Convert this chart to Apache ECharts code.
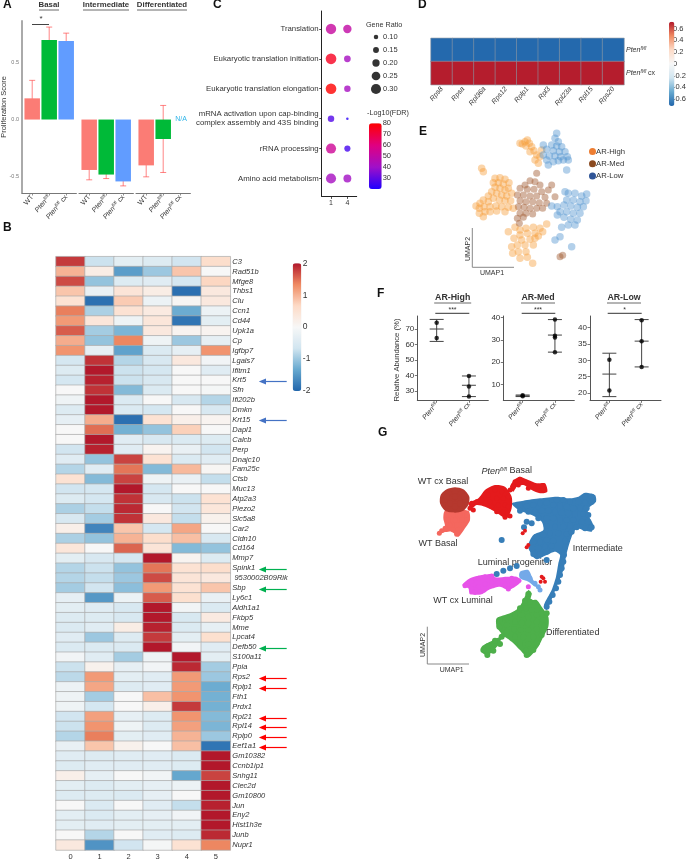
<!DOCTYPE html>
<html>
<head>
<meta charset="utf-8">
<style>html,body{margin:0;padding:0;background:#fff}#c{width:689px;height:861px}</style>
<script src="https://cdn.jsdelivr.net/npm/echarts@6/dist/echarts.min.js"></script>
</head>
<body>
<div id="c"></div>
<script>
// ---------- Panel A ----------
var groupsA = ['WT', 'Pten', 'PtenCx'];
var facetsA = ['Basal', 'Intermediate', 'Differentiated'];
var scoreBasal = [0.185, 0.695, 0.685];
var scoreIntermediate = [-0.44, -0.48, -0.54];
var scoreDifferentiated = [-0.40, -0.17, null];
var errBasal = [[0.03, 0.342], [0.58, 0.807], [0.611, 0.754]];
var errIntermediate = [[-0.526, -0.35], [-0.515, -0.447], [-0.579, -0.503]];
var errDifferentiated = [[-0.5, -0.298], [-0.462, 0.123], null];

// ---------- Panel B ----------
var genesB = ['C3','Rad51b','Mfge8','Thbs1','Clu','Ccn1','Cd44','Upk1a','Cp','Igfbp7','Lgals7','Ifitm1','Krt5','Sfn','Ifi202b','Dmkn','Krt15','Dapl1','Calcb','Perp',
 'Dnajc10','Fam25c','Ctsb','Muc13','Atp2a3','Piezo2','Slc5a8','Car2','Cldn10','Cd164',
 'Mmp7','Spink1',' 9530002B09Rik','Sbp','Ly6c1','Aldh1a1','Fkbp5','Mme','Lpcat4','Defb50',
 'S100a11','Ppia','Rps2','Rplp1','Fth1','Prdx1','Rpl21','Rpl14','Rplp0','Eef1a1',
 'Gm10382','Ccnb1ip1','Snhg11','Clec2d','Gm10800','Jun','Eny2','Hist1h3e','Junb','Nupr1'];
var clustersB = ['0','1','2','3','4','5'];
var exprB = [
[1.8,-0.7,-0.35,-0.45,-0.65,0.6],[1.0,0.25,-1.45,-1.0,0.85,0.0],[1.7,-1.05,-0.45,-0.4,-0.6,0.7],[0.85,-0.25,0.45,0.25,-1.9,0.35],[0.5,-1.9,0.8,-0.2,0.05,0.35],
[1.4,-0.9,0.5,0.3,-1.3,-0.2],[1.2,0.4,-0.15,0.4,-1.85,-0.35],[1.6,-0.95,-1.2,0.35,0.1,0.1],[1.05,-1.05,1.35,-0.15,-1.0,-0.3],[1.25,-0.3,-1.4,-0.5,-0.3,1.25],
[-0.6,1.85,-0.85,-0.55,0.35,-0.1],[-0.45,2.0,-0.7,-0.6,0.0,-0.4],[-0.6,1.95,-0.7,-0.55,0.0,0.0],[0.0,1.85,-1.15,-0.5,0.0,-0.05],[-0.15,2.0,-0.5,0.0,-0.55,-0.85],
[-0.45,2.0,-0.5,-0.6,0.0,-0.55],[-0.3,1.05,-1.9,0.5,0.2,0.1],[0.0,1.5,-1.25,-1.05,0.75,0.0],[0.0,2.0,-0.4,-0.55,-0.5,-0.45],[-0.65,1.95,-0.4,0.1,-0.25,-0.65],
[-0.4,-1.05,1.75,0.5,-0.5,-0.4],[-0.85,-0.4,1.45,-1.15,0.95,0.05],[0.5,-1.15,1.75,-0.15,-0.25,-0.75],[-0.65,-0.6,2.0,-0.6,0.0,0.0],[-0.45,-0.6,1.85,-0.55,-0.7,0.5],
[-0.9,-0.75,1.9,0.0,-0.65,0.4],[-0.55,-0.95,1.85,0.35,-0.75,0.15],[0.2,-1.7,0.85,-0.6,1.1,0.0],[-0.9,-1.05,1.0,0.6,0.9,-0.55],[0.4,0.0,1.55,0.45,-1.15,-1.05],
[-0.35,-0.55,-0.6,2.0,0.1,-0.45],[-0.85,-0.7,-1.05,1.45,0.5,0.6],[-0.85,-0.75,-1.0,1.7,0.45,0.35],[-0.95,-0.65,-1.1,1.2,0.5,0.85],[-0.3,-1.5,-0.2,1.6,0.55,-0.25],
[-0.35,-0.4,-0.55,2.0,-0.1,-0.5],[-0.45,-0.45,-0.55,2.0,-0.55,0.3],[-0.5,-0.4,0.25,1.95,-0.5,-0.3],[-0.4,-1.0,-0.45,1.8,-0.35,0.55],[-0.5,-0.5,-0.5,2.0,-0.1,-0.4],
[-0.1,-0.4,-0.95,-0.15,2.0,-0.35],[-0.7,0.15,-0.3,-0.1,1.9,-0.95],[-0.8,1.2,-0.35,-0.4,1.2,-1.0],[-0.2,1.1,-0.45,-0.4,1.2,-1.3],[-0.15,-0.95,0.0,0.9,1.25,-1.25],
[-0.15,-0.6,0.0,0.2,1.8,-1.25],[-0.65,1.15,-0.3,-0.45,1.25,-1.15],[-0.7,1.25,-0.15,-0.45,1.15,-1.2],[-0.85,1.4,-0.35,-0.4,1.0,-1.0],[-0.25,0.85,0.15,0.0,0.9,-1.85],
[-0.4,-0.45,-0.4,-0.4,-0.5,2.0],[-0.45,-0.4,-0.4,-0.4,-0.45,2.0],[0.2,-0.3,0.0,-0.1,-1.35,1.75],[-0.35,-0.45,-0.35,-0.3,-0.2,2.0],[-0.45,-0.45,-0.5,-0.3,0.0,2.0],
[0.0,-0.5,0.0,-0.4,-0.75,1.95],[-0.35,-0.5,-0.35,-0.3,-0.1,2.0],[-0.35,-0.4,-0.35,-0.35,-0.35,2.0],[0.0,-0.85,0.0,-0.4,-0.45,1.9],[0.35,-1.55,-0.65,-0.05,0.5,1.35]
];
var blueArrowGenes = ['Krt5', 'Krt15'];
var greenArrowGenes = ['Spink1', 'Sbp', 'Defb50'];
var redArrowGenes = ['Rps2', 'Rplp1', 'Rpl21', 'Rpl14', 'Rplp0', 'Eef1a1'];

// ---------- Panel C ----------
var termsC = ['Translation','Eukaryotic translation initiation','Eukaryotic translation elongation','mRNA activation upon cap-binding\ncomplex assembly and 43S binding','rRNA processing','Amino acid metabolism'];
var clustersC = ['1', '4'];
var ratioC1 = [0.31, 0.32, 0.32, 0.17, 0.30, 0.30];
var ratioC4 = [0.24, 0.18, 0.17, 0.03, 0.16, 0.22];
var fdrC1 = [52, 75, 80, 28, 54, 42];
var fdrC4 = [50, 42, 42, 22, 26, 41];
var ratioLegend = [0.10, 0.15, 0.20, 0.25, 0.30];

// ---------- Panel D ----------
var genesD = ['Rps8','Rpsa','Rpl36a','Rps12','Rplp1','Rpl3','Rpl23a','Rpl15','Rps20'];
var rowsD = ['Pten', 'PtenCx'];
var exprDPten = [-0.71,-0.71,-0.71,-0.71,-0.71,-0.71,-0.71,-0.71,-0.71];
var exprDCx = [0.71,0.71,0.71,0.71,0.71,0.71,0.71,0.71,0.71];
var ticksD = [-0.6,-0.4,-0.2,0,0.2,0.4,0.6];

// ---------- Panel E (UMAP) ----------
var arHigh = [[240,100],[247,102],[255,95],[262,90],[268,100],[275,110],[258,108],[282,122],[270,125],[290,135],[285,150],[295,160],[300,140],[305,120],
[165,205],[180,203],[195,208],[207,218],[160,218],[175,218],[190,222],[205,235],[165,232],[180,235],[195,240],[215,250],[155,245],[170,250],[185,255],[200,258],[145,258],[160,265],[178,270],[195,272],[212,272],[130,270],[145,275],[120,280],[108,288],[118,295],[132,290],[150,290],[168,288],[185,290],[205,292],[220,295],[118,310],[130,320],[135,305],[150,305],[170,303],[195,305],[125,175],[130,185],
[205,365],[225,352],[240,360],[258,355],[280,352],[300,355],[320,342],[308,365],[285,370],[262,370],[240,375],[222,385],[245,390],[270,388],[295,378],[215,410],[232,405],[255,405],[280,405],[218,430],[235,425],[258,425],[240,445],[262,442],[278,460],[285,385]];
var arMed = [[290,190],[270,212],[285,215],[300,225],[255,225],[240,235],[262,238],[282,238],[305,245],[325,240],[232,255],[250,255],[270,258],[290,258],[315,262],[240,272],[258,275],[278,275],[298,278],[320,280],[235,290],[252,292],[270,295],[290,295],[308,295],[240,310],[258,310],[278,312],[232,325],[250,322],[238,340],[345,260],[335,225],[360,440],[368,436]];
var arLow = [[350,70],[345,85],[355,95],[335,105],[350,108],[365,110],[320,118],[340,122],[358,125],[375,125],[310,105],[310,135],[328,138],[345,138],[362,140],[382,140],[385,150],[320,150],[340,155],[355,152],[370,150],[325,165],
[440,252],[425,258],[405,250],[385,250],[375,245],[438,272],[420,275],[400,270],[380,270],[430,290],[412,292],[392,288],[372,285],[352,290],[335,288],[420,310],[400,310],[380,305],[360,305],[412,330],[392,328],[372,322],[352,315],[405,345],[385,345],[365,352],[360,380],[345,390],[395,410],[380,180]];

// ---------- Panel F ----------
var groupsF = ['Pten', 'PtenCx'];
var highDots = [[1,74],[1,64.2],[2,39.7],[2,32.9],[2,26.4]];
var highErr = [[1,62,76.2,70],[2,26.4,39.7,33.7]];
var medDots = [[1,4.8],[1,5.3],[2,39],[2,31.8],[2,31],[2,24.5]];
var medErr = [[1,4.7,5.4,5],[2,24.5,39,32.1]];
var lowDots = [[1,30.2],[1,20.8],[2,42.3],[2,35.9],[2,28]];
var lowErr = [[1,18.9,32.2,25.8],[2,28,42.5,35.9]];

// ---------- Panel G (UMAP): cloud envelopes ----------
var hullIntermediate = [[335,190],[370,182],[420,175],[470,170],[510,175],[535,170],[555,158],[585,165],[588,185],[565,205],[565,225],[580,255],[575,275],[550,270],[530,265],[515,290],[500,340],[490,390],[470,440],[450,490],[440,510],[432,495],[455,450],[468,410],[475,370],[480,345],[465,335],[440,345],[410,358],[395,345],[385,315],[400,285],[430,270],[425,245],[395,225],[355,210]];
var hullLumProg = [[360,395],[385,390],[400,420],[415,438],[405,440],[385,425],[360,415]];
var hullWtCxLuminal = [[187,435],[210,415],[245,405],[280,402],[285,412],[320,410],[350,410],[365,422],[350,437],[325,450],[300,440],[270,448],[245,463],[210,463],[205,445]];
var hullDifferentiated = [[385,450],[395,460],[392,480],[410,480],[425,500],[445,530],[445,560],[430,590],[415,620],[385,652],[360,630],[335,605],[310,590],[295,615],[265,645],[248,640],[245,620],[280,600],[305,585],[290,560],[290,535],[330,520],[355,505],[370,480]];
var hullWtBasal = [[135,212],[205,212],[210,240],[195,265],[175,290],[155,275],[120,278],[135,260],[130,235]];
var hullWtCxBasal = [[165,142],[190,148],[208,170],[205,195],[190,212],[165,218],[135,212],[120,190],[122,165],[140,148]];
var hullPtenBasal = [[205,190],[235,175],[255,150],[285,135],[315,140],[335,170],[335,205],[320,235],[285,215],[255,200],[230,195],[215,205]];
var hullPtenBasalTop = [[330,140],[345,118],[360,110],[385,120],[410,130],[435,130],[442,155],[420,160],[395,150],[370,135],[350,140],[340,155]];
// ---------- Panel G: individual points ----------
var gIntermediate = [[555,170],[575,170],[470,180],[490,180],[510,185],[535,185],[555,188],[575,185],
[360,195],[380,198],[400,195],[420,190],[440,188],[460,195],[480,198],[500,200],[520,205],[540,205],[560,205],
[360,212],[385,215],[405,215],[425,212],[445,212],[465,215],[485,218],[505,220],[525,222],[550,222],[565,225],
[415,235],[440,235],[460,235],[480,240],[500,240],[520,240],[545,245],[565,245],[575,262],[555,265],
[440,258],[465,260],[490,260],[510,258],[530,262],[410,290],[430,285],[450,280],[475,280],[500,282],[515,275],
[400,305],[420,305],[440,300],[460,302],[495,302],[395,325],[415,325],[435,320],[455,318],[495,322],[400,342],[420,342],[440,335],[492,345],
[490,365],[485,385],[480,405],[475,425],[468,445],[458,465],[448,485],[440,500],[290,402],[310,392],[330,385],[350,378],[380,245],[372,262],[395,250],[305,300],[440,360]];
var gLumProg = [[365,405],[380,400],[390,415],[405,430],[415,440],[420,450]];
var gWtCxLuminal = [[195,437],[215,425],[235,415],[255,410],[275,408],[215,445],[235,440],[255,432],[275,428],[240,455],[295,428],[315,418],[335,415],[355,422],[315,435],[335,432],[325,447],[385,440]];
var gDifferentiated = [[385,462],[375,482],[390,485],[360,505],[378,505],[395,510],[345,525],[365,525],[385,530],[410,525],[425,520],[320,535],[300,540],[345,545],[320,555],[298,560],[365,548],[385,550],[410,545],[430,540],[440,520],[342,568],[320,575],[362,570],[385,570],[410,568],[432,560],[345,590],[370,592],[400,590],[425,585],[360,612],[385,612],[410,610],[378,632],[400,630],[380,645],[305,590],[285,602],[265,618],[250,630],[262,645],[280,632],[300,612]];
var gWtBasal = [[140,225],[160,225],[180,225],[200,225],[145,240],[165,240],[185,240],[200,240],[150,255],[170,255],[190,255],[160,270],[178,270],[170,283],[135,265],[125,272],[118,280]];
var gWtCxBasal = [[165,155],[145,160],[185,160],[135,180],[155,178],[175,178],[195,180],[145,198],[165,200],[185,198],[165,170],[150,190],[180,190],[140,170],[192,170]];
var gPtenBasal = [[230,185],[215,190],[245,180],[265,165],[285,150],[305,155],[270,185],[290,175],[310,175],[325,170],[275,200],[295,195],[315,195],[290,215],[310,215],[325,200],[345,125],[360,118],[375,125],[395,135],[415,138],[430,148],[340,140],[330,150],[355,135],[385,145],[315,232],[330,228],[210,205],[220,210]];
var gStrayRed = [[385,315],[380,322],[375,272],[430,415],[422,425],[435,425],[425,410],[368,280]];

var FONT = '"Liberation Sans", Arial, sans-serif';
var BLUE_RED = ['#2166AC','#67A9CF','#D1E5F0','#F7F7F7','#FDDBC7','#EF8A62','#B2182B'];

var richP = {
  i: {fontStyle:'italic', fontFamily:FONT, fontSize:7, color:'#333'},
  s: {fontStyle:'italic', fontFamily:FONT, fontSize:4.5, color:'#333', verticalAlign:'top', padding:[0,0,3,0]},
  n: {fontFamily:FONT, fontSize:7, color:'#333'}
};
function groupLabel(g) {
  if (g === 'Pten') return '{i|Pten}{s|fl/fl}';
  if (g === 'PtenCx') return '{i|Pten}{s|fl/fl}{n| cx}';
  return '{n|' + g + '}';
}
function seq(n) { var a = []; for (var i = 1; i <= n; i++) a.push(i); return a; }
function discreteAxis(labels, gridIndex, pad, lineCol, extra) {
  var n = labels.length;
  var o = {
    type:'value', gridIndex:gridIndex, min:1-pad, max:n+pad,
    splitLine:{show:false},
    axisLine:{show:true, onZero:false, lineStyle:{color:lineCol, width:1}},
    axisTick:{show:true, length:2.5, customValues:seq(n), lineStyle:{color:lineCol, width:0.8}},
    axisLabel:{show:true, customValues:seq(n), fontFamily:FONT, fontSize:7, color:'#333', margin:3,
      formatter:function(v){ return labels[Math.round(v)-1]; }}
  };
  for (var k in extra) o[k] = extra[k];
  return o;
}
function hiddenAxis(gridIndex, min, max, inverse) {
  return {type:'value', gridIndex:gridIndex, min:min, max:max, inverse:!!inverse, show:false};
}
var grids = [], xAxes = [], yAxes = [], series = [];
function addGrid(l, t, w, h) { grids.push({left:l, top:t, width:w, height:h, containLabel:false}); return grids.length-1; }

function errorSeries(gi, data, color, capPx, opts) {
  opts = opts || {};
  return {
    type:'custom', xAxisIndex:gi, yAxisIndex:gi, coordinateSystem:'cartesian2d', silent:true, clip:false,
    data:data, encode:{x:0, y:[1,2]},
    renderItem:function(p, api){
      var x = api.value(0), lo = api.coord([x, api.value(1)]), hi = api.coord([x, api.value(2)]);
      var st = {stroke:color, lineWidth:opts.width||1, opacity:opts.opacity==null?1:opts.opacity};
      var ch = [
        {type:'line', shape:{x1:lo[0],y1:lo[1],x2:hi[0],y2:hi[1]}, style:st},
        {type:'line', shape:{x1:lo[0]-capPx,y1:lo[1],x2:lo[0]+capPx,y2:lo[1]}, style:st},
        {type:'line', shape:{x1:hi[0]-capPx,y1:hi[1],x2:hi[0]+capPx,y2:hi[1]}, style:st}
      ];
      var m = api.value(3);
      if (!isNaN(m)) { var c = api.coord([x,m]); ch.push({type:'line', shape:{x1:c[0]-capPx,y1:c[1],x2:c[0]+capPx,y2:c[1]}, style:st}); }
      return {type:'group', children:ch};
    }
  };
}

// ---- Panel A grids
var colorsA = ['#FB7C75','#00BA38','#619CFF'];
var aY = [-0.641, 0.86];
function facetA(left, vals, errs, showY) {
  var gi = addGrid(left, 21, 54.4, 172);
  xAxes.push(discreteAxis(groupsA.map(groupLabel), gi, 0.6, '#777', {}));
  xAxes[gi].axisLabel.rotate = 50; xAxes[gi].axisLabel.rich = richP;
  yAxes.push({type:'value', gridIndex:gi, min:aY[0], max:aY[1], show:showY, splitLine:{show:false},
    axisLine:{show:true, lineStyle:{color:'#aaa', width:2}}, axisTick:{show:false, customValues:[-0.5,0,0.5]},
    axisLabel:{customValues:[-0.5,0,0.5], fontFamily:FONT, fontSize:5.5, color:'#777', margin:3,
      formatter:function(v){ return v.toFixed(1); }}});
  series.push({type:'bar', xAxisIndex:gi, yAxisIndex:gi, barWidth:15.5, silent:true,
    data:vals.map(function(v,i){ return v==null?null:{value:[i+1,v], itemStyle:{color:colorsA[i]}}; })});
  series.push(errorSeries(gi, errs.map(function(e,i){ return e?[i+1,e[0],e[1]]:null; }).filter(Boolean), '#F44', 3, {opacity:.65}));
}
facetA(22, scoreBasal, errBasal, true);
facetA(79, scoreIntermediate, errIntermediate, false);
facetA(136, scoreDifferentiated, errDifferentiated, false);

// ---- Panel B
var giB = addGrid(56, 256.7, 174.3, 594.6);
xAxes.push({type:'category', gridIndex:giB, data:clustersB, position:'bottom', axisLine:{show:false}, axisTick:{show:false},
  axisLabel:{fontFamily:FONT, fontSize:7.5, color:'#333', margin:3}, splitLine:{show:false}});
yAxes.push({type:'category', gridIndex:giB, data:genesB, inverse:true, position:'right', axisLine:{show:false}, axisTick:{show:false},
  axisLabel:{interval:0, fontFamily:FONT, fontSize:7.5, fontStyle:'italic', color:'#333', margin:2}, splitLine:{show:false}});
var dataB = [];
exprB.forEach(function(r,ri){ r.forEach(function(v,ci){ dataB.push([ci,ri,v]); }); });
series.push({type:'heatmap', xAxisIndex:giB, yAxisIndex:giB, data:dataB, silent:true,
  itemStyle:{borderColor:'#aaa', borderWidth:0.7}, emphasis:{disabled:true}});
var sB = series.length-1;

// colourbar B axis
var giBc = addGrid(292.7, 263.3, 8.6, 127.7);
xAxes.push(hiddenAxis(giBc,0,1));
yAxes.push({type:'value', gridIndex:giBc, min:-2, max:2, interval:1, position:'right', axisLine:{show:false}, axisTick:{show:false}, splitLine:{show:false},
  axisLabel:{fontFamily:FONT, fontSize:8.5, color:'#333', margin:1.5}});

// ---- Panel C
var giC = addGrid(321.7, 11, 35, 185.4);
xAxes.push(discreteAxis(clustersC, giC, 0.57, '#222', {}));
xAxes[giC].axisLabel.fontSize = 7;
yAxes.push(discreteAxis(termsC, giC, 0.6, '#222', {inverse:true}));
yAxes[giC].axisLabel.fontSize = 7.8; yAxes[giC].axisLabel.lineHeight = 9.3; yAxes[giC].axisLabel.margin = 3; yAxes[giC].axisLabel.align='right';
function ratioSize(r) { return 1.7 + r * 28; }
var dataC = [];
termsC.forEach(function(t,i){
  dataC.push([1,i+1,ratioC1[i],fdrC1[i]]);
  dataC.push([2,i+1,ratioC4[i],fdrC4[i]]);
});
series.push({type:'scatter', xAxisIndex:giC, yAxisIndex:giC, data:dataC, silent:true,
  symbolSize:function(v){ return ratioSize(v[2]); }});
var sC = series.length-1;

// Size legend
var giCl = addGrid(370, 30.5, 12, 65);
xAxes.push(hiddenAxis(giCl,0,1));
yAxes.push({type:'category', gridIndex:giCl, data:ratioLegend.map(function(r){return r.toFixed(2);}), inverse:true, position:'right',
  axisLine:{show:false}, axisTick:{show:false}, splitLine:{show:false}, axisLabel:{fontFamily:FONT, fontSize:7.5, color:'#333', margin:1}});
series.push({type:'scatter', xAxisIndex:giCl, yAxisIndex:giCl, silent:true, itemStyle:{color:'#000'},
  data:ratioLegend.map(function(r){ return [0.5, r.toFixed(2), r]; }),
  symbolSize:function(v){ return ratioSize(v[2]); }});

// colourbar C axis
var giCc = addGrid(369, 123.3, 12.7, 65.7);
xAxes.push(hiddenAxis(giCc,0,1));
yAxes.push({type:'value', gridIndex:giCc, min:20, max:80, interval:10, position:'right', axisLine:{show:false}, axisTick:{show:false}, splitLine:{show:false},
  axisLabel:{fontFamily:FONT, fontSize:7.5, color:'#333', margin:1, showMinLabel:false}});

// ---- Panel D
var giD = addGrid(431, 38.3, 193, 46.4);
xAxes.push({type:'category', gridIndex:giD, data:genesD, position:'bottom', axisLine:{show:false}, axisTick:{show:false}, splitLine:{show:false},
  axisLabel:{interval:0, rotate:50, fontFamily:FONT, fontSize:7, fontStyle:'italic', color:'#333', margin:3}});
yAxes.push({type:'category', gridIndex:giD, data:rowsD.map(groupLabel), inverse:true, position:'right', axisLine:{show:false}, axisTick:{show:false}, splitLine:{show:false},
  axisLabel:{rich:richP, fontFamily:FONT, fontSize:7, margin:2}});
var dataD = [];
genesD.forEach(function(g,i){ dataD.push([i,0,exprDPten[i]]); dataD.push([i,1,exprDCx[i]]); });
series.push({type:'heatmap', xAxisIndex:giD, yAxisIndex:giD, data:dataD, silent:true,
  itemStyle:{borderColor:'#8a96a3', borderWidth:0.6}, emphasis:{disabled:true}});
var sD = series.length-1;

// colourbar D axis
var giDc = addGrid(669, 21.7, 5.4, 84.3);
xAxes.push(hiddenAxis(giDc,0,1));
yAxes.push({type:'value', gridIndex:giDc, min:-0.72, max:0.72, position:'right', axisLine:{show:false}, axisTick:{show:false}, splitLine:{show:false},
  axisLabel:{customValues:ticksD, fontFamily:FONT, fontSize:7.5, color:'#333', margin:2, formatter:function(v){ return String(Math.round(v*10)/10); }}});

// ---- Panel E : coordinates are picture readings, 3 units to a pixel
var giE = addGrid(440, 110, 249, 170);
xAxes.push(hiddenAxis(giE,0,747));
yAxes.push(hiddenAxis(giE,0,510,true));
function cloud(gi, name, data, color, size, opacity) {
  series.push({type:'scatter', name:name, xAxisIndex:gi, yAxisIndex:gi, data:data, symbolSize:size, silent:true, clip:false,
    itemStyle:{color:color, opacity:opacity}});
}
function hull(gi, pts, color) {
  series.push({type:'custom', xAxisIndex:gi, yAxisIndex:gi, coordinateSystem:'cartesian2d', silent:true, clip:false,
    data:pts, encode:{x:0,y:1},
    renderItem:function(p, api){
      if (p.dataIndex !== 0) return null;
      return {type:'polygon', shape:{points:pts.map(function(q){ return api.coord(q); }), smooth:0.25}, style:{fill:color}};
    }});
}
cloud(giE, 'AR-High', arHigh, '#F59A35', 7.5, 0.42);
cloud(giE, 'AR-Med', arMed, '#A0582F', 7, 0.45);
cloud(giE, 'AR-Low', arLow, '#4A90CE', 7.5, 0.42);

// ---- Panel F
function facetF(left, ymin, ymax, ticks, dots, errs) {
  var gi = addGrid(left, 316, 71, 84.3);
  xAxes.push(discreteAxis(groupsF.map(groupLabel), gi, 0.6, '#555', {}));
  xAxes[gi].axisLabel.rotate = 50; xAxes[gi].axisLabel.rich = richP;
  yAxes.push({type:'value', gridIndex:gi, min:ymin, max:ymax, splitLine:{show:false},
    axisLine:{show:true, lineStyle:{color:'#555', width:1}}, axisTick:{show:true, length:2.5, customValues:ticks, lineStyle:{color:'#555', width:.8}},
    axisLabel:{customValues:ticks, fontFamily:FONT, fontSize:8, color:'#333', margin:3}});
  series.push(errorSeries(gi, errs, '#444', 7, {width:1}));
  series.push({type:'scatter', xAxisIndex:gi, yAxisIndex:gi, data:dots, symbolSize:4.5, silent:true, itemStyle:{color:'#000'}});
}
facetF(417.3, 24, 78.4, [30,40,50,60,70], highDots, highErr);
facetF(503.3, 3.04, 40.6, [10,20,30,40], medDots, medErr);
facetF(590, 17.77, 43.6, [20,25,30,35,40], lowDots, lowErr);

// ---- Panel G : coordinates are picture readings, 3 units to a pixel
var giG = addGrid(400, 440, 260, 240);
xAxes.push(hiddenAxis(giG,0,780));
yAxes.push(hiddenAxis(giG,0,720,true));
hull(giG, hullIntermediate, '#377EB8');
cloud(giG, 'Intermediate', gIntermediate, '#377EB8', 6, 1);
hull(giG, hullLumProg, '#74A9E8');
cloud(giG, 'Luminal progenitor', gLumProg, '#74A9E8', 5, 1);
hull(giG, hullWtCxLuminal, '#E752E8');
cloud(giG, 'WT cx Luminal', gWtCxLuminal, '#E752E8', 5, 1);
hull(giG, hullDifferentiated, '#4DAF4A');
cloud(giG, 'Differentiated', gDifferentiated, '#4DAF4A', 6, 1);
hull(giG, hullWtBasal, '#F4675E');
cloud(giG, 'WT Basal', gWtBasal, '#F4675E', 5, 1);
hull(giG, hullWtCxBasal, '#B5382E');
cloud(giG, 'WT cx Basal', gWtCxBasal, '#B5382E', 6, 1);
hull(giG, hullPtenBasal, '#E41A1C');
hull(giG, hullPtenBasalTop, '#E41A1C');
cloud(giG, 'Pten Basal', gPtenBasal, '#E41A1C', 5, 1);
cloud(giG, 'stray', gStrayRed, '#E41A1C', 4, 1);

// ---- graphic annotations
var g = [];
function txt(x, y, text, o) {
  o = o || {};
  var st = {text:text, fontFamily:FONT, fontSize:o.size||8, fontWeight:o.bold?'bold':'normal', fontStyle:o.italic?'italic':'normal',
    fill:o.color||'#333', align:o.align||'center', verticalAlign:'middle'};
  if (o.rich) st.rich = o.rich;
  g.push({type:'text', x:x, y:y, rotation:o.rot||0, silent:true, style:st});
}
function seg(x1,y1,x2,y2,col,w) { g.push({type:'line', silent:true, shape:{x1:x1,y1:y1,x2:x2,y2:y2}, style:{stroke:col, lineWidth:w||1}}); }
function arrow(y,col) {
  y = Math.round(y) + 0.5;
  seg(264, y, 286.7, y, col, 1.2);
  g.push({type:'polygon', silent:true, shape:{points:[[258.8,y],[266,y-3],[266,y+3]]}, style:{fill:col}});
}
[['A',3,5],['B',3,228],['C',213,5],['D',418,5],['E',419,132],['F',377,294],['G',378,433]].forEach(function(p){
  txt(p[1],p[2],p[0],{size:12,bold:true,color:'#111',align:'left'});
});
// A
[[49,'Basal',20],[106,'Intermediate',46],[162,'Differentiated',50]].forEach(function(p){
  txt(p[0],5,p[1],{size:7.8,bold:true});
  seg(p[0]-p[2]/2,10,p[0]+p[2]/2,10,'#444',0.8);
});
txt(3.5,107,'Proliferation Score',{size:7.5,rot:Math.PI/2});
seg(32,24.5,49,24.5,'#444',1);
txt(41,19,'*',{size:8});
txt(181,119,'N/A',{size:7,color:'#2DB4E8'});
// B arrows
function rowY(name){ return 256.7 + (genesB.indexOf(name)+0.5)*594.6/genesB.length; }
blueArrowGenes.forEach(function(n){ arrow(rowY(n),'#4472C4'); });
greenArrowGenes.forEach(function(n){ arrow(rowY(n),'#00B050'); });
redArrowGenes.forEach(function(n){ arrow(rowY(n),'#FF0000'); });
// C legend titles
txt(366,25,'Gene Ratio',{size:7.2,align:'left'});
txt(367,113,'-Log10(FDR)',{size:7.2,align:'left'});
// E axes
seg(472.3,228,472.3,267.3,'#888',1); seg(472.3,267.3,514,267.3,'#888',1);
txt(468,249,'UMAP2',{size:7,rot:Math.PI/2});
txt(492,273,'UMAP1',{size:7});
// F titles
[[452.7,'AR-High',37],[538,'AR-Med',34],[624,'AR-Low',34]].forEach(function(p){
  txt(p[0],298,p[1],{size:8.8,bold:true});
  seg(p[0]-p[2]/2,303,p[0]+p[2]/2,303,'#444',0.8);
});
seg(435.3,313.3,469.3,313.3,'#333',1); txt(452.5,310,'***',{size:7});
seg(521.7,313.3,555.3,313.3,'#333',1); txt(538,310,'***',{size:7});
seg(607.7,313.3,641.7,313.3,'#333',1); txt(624.5,310,'*',{size:7});
txt(396.7,360,'Relative Abundance (%)',{size:7.7,rot:Math.PI/2});
// G axes + labels
seg(427.3,626.7,427.3,664,'#888',1); seg(427.3,664,469,664,'#888',1);
txt(422.7,645,'UMAP2',{size:7,rot:Math.PI/2});
txt(451.7,670,'UMAP1',{size:7});
var richG = {i:{fontStyle:'italic',fontFamily:FONT,fontSize:9,fill:'#333',color:'#333'},
  s:{fontStyle:'italic',fontFamily:FONT,fontSize:5.5,color:'#333',verticalAlign:'top',padding:[0,0,3,0]},
  n:{fontFamily:FONT,fontSize:9,color:'#333'}};
txt(443,482,'WT cx Basal',{size:9});
txt(506.7,471,'{i|Pten}{s|fl/fl}{n| Basal}',{size:9,rich:richG});
txt(438,543.7,'WT Basal',{size:9});
txt(597.7,549,'Intermediate',{size:9});
txt(515,562.7,'Luminal progenitor',{size:9});
txt(463,600.7,'WT cx Luminal',{size:9});
txt(572.7,633,'Differentiated',{size:9});

var chart = echarts.init(document.getElementById('c'), null, {renderer:'canvas', width:689, height:861});
chart.setOption({
  animation:false,
  backgroundColor:'#fff',
  grid:grids, xAxis:xAxes, yAxis:yAxes, series:series, graphic:g,
  tooltip:{show:false},
  legend:{show:true, orient:'vertical', left:589, top:147.5, padding:0, itemGap:4.2, itemWidth:7, itemHeight:7,
    textStyle:{fontFamily:FONT, fontSize:7.7, color:'#333', padding:[0,0,0,-5]}, selectedMode:false,
    data:[{name:'AR-High',icon:'circle',itemStyle:{color:'#ED7D31',opacity:1}},{name:'AR-Med',icon:'circle',itemStyle:{color:'#8B4A20',opacity:1}},{name:'AR-Low',icon:'circle',itemStyle:{color:'#2F5597',opacity:1}}]},
  visualMap:[
    {type:'continuous', seriesIndex:sB, dimension:2, min:-2, max:2, left:292.7, top:263.3, itemWidth:8.6, itemHeight:127.7, padding:0, calculable:false, hoverLink:false, text:null, showLabel:false, inRange:{color:BLUE_RED}, textStyle:{fontSize:0}, formatter:function(){return '';}},
    {type:'continuous', seriesIndex:sC, dimension:3, min:20, max:80, left:369, top:123.3, itemWidth:12.7, itemHeight:65.7, padding:0, calculable:false, hoverLink:false, inRange:{color:['#2000FF','#A010C8','#E00080','#FF0000']}, textStyle:{fontSize:0}, formatter:function(){return '';}},
    {type:'continuous', seriesIndex:sD, dimension:2, min:-0.72, max:0.72, left:669, top:21.7, itemWidth:5.4, itemHeight:84.3, padding:0, calculable:false, hoverLink:false, inRange:{color:BLUE_RED}, textStyle:{fontSize:0}, formatter:function(){return '';}}
  ]
});
</script>
</body>
</html>
